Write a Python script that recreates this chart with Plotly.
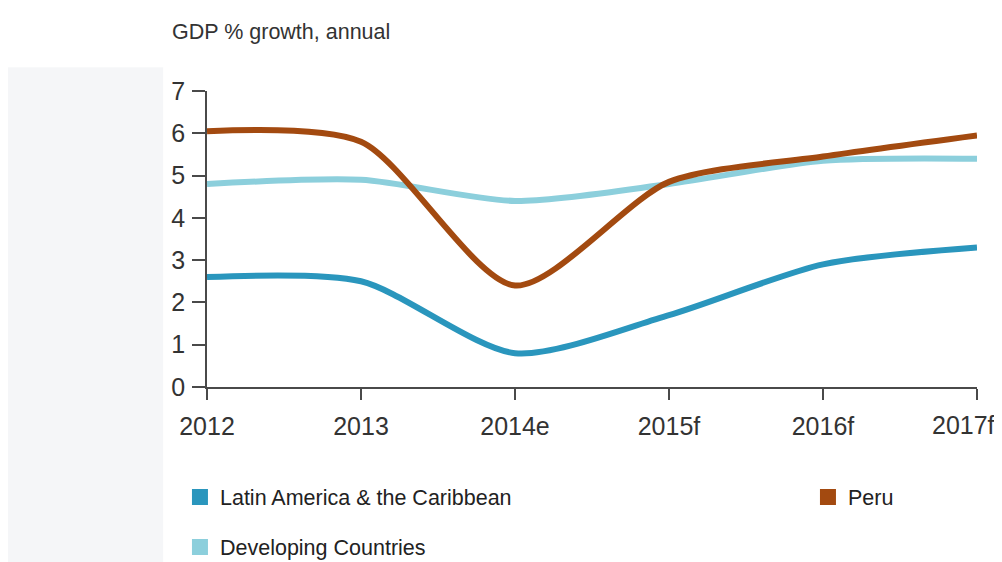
import plotly.graph_objects as go

years = ["2012", "2013", "2014e", "2015f", "2016f", "2017f"]
lac = [2.6, 2.5, 0.8, 1.7, 2.9, 3.3]
developing = [4.8, 4.9, 4.4, 4.8, 5.35, 5.4]
peru = [6.05, 5.8, 2.4, 4.85, 5.45, 5.95]

C_LAC = "#2a96bd"
C_DEV = "#8ccfdc"
C_PERU = "#a34a10"

fig = go.Figure()
for name, vals, col in [("Developing Countries", developing, C_DEV),
                        ("Latin America & the Caribbean", lac, C_LAC),
                        ("Peru", peru, C_PERU)]:
    fig.add_trace(go.Scatter(x=years, y=vals, mode="lines", name=name,
                             line=dict(color=col, width=6, shape="spline", smoothing=0.75),
                             showlegend=False, hoverinfo="skip"))

# legend entries with square swatches
fig.add_trace(go.Scatter(x=[None], y=[None], mode="markers", name="Latin America & the Caribbean",
                         marker=dict(symbol="square", size=18, color=C_LAC),
                         legend="legend", legendwidth=583))
fig.add_trace(go.Scatter(x=[None], y=[None], mode="markers", name="Peru",
                         marker=dict(symbol="square", size=18, color=C_PERU),
                         legend="legend", legendwidth=50))
fig.add_trace(go.Scatter(x=[None], y=[None], mode="markers", name="Developing Countries",
                         marker=dict(symbol="square", size=18, color=C_DEV),
                         legend="legend2"))

# the last category label is drawn as an annotation, pulled left to stay inside the page
ticktext = years[:-1] + [""]

axis_col = "#4a4a4a"
label_font = dict(size=25, color="#333333")
# page body has an 8px margin, so the figure is sized to fit the window
fig.update_layout(
    width=994, height=554,
    margin=dict(l=199, r=25, t=83, b=175),
    paper_bgcolor="white", plot_bgcolor="white",
    font=dict(family="Liberation Sans, Arial, sans-serif", color="#333333"),
    xaxis=dict(type="category", categoryorder="array", categoryarray=years,
               tickvals=years, ticktext=ticktext,
               range=[0, 5], showgrid=False, zeroline=False, automargin=False,
               showline=True, linecolor=axis_col, linewidth=1.5,
               ticks="outside", ticklen=11, tickcolor=axis_col, tickwidth=1.5,
               ticklabelstandoff=5,
               tickfont=label_font),
    yaxis=dict(range=[0, 7], dtick=1, showgrid=False, zeroline=False, automargin=False,
               showline=True, linecolor=axis_col, linewidth=1.5,
               ticks="outside", ticklen=13, tickcolor=axis_col, tickwidth=1.5,
               ticklabelstandoff=2,
               tickfont=label_font),
    legend=dict(orientation="h", xref="container", x=0.173, xanchor="left",
                yref="container", y=0.1173, yanchor="middle",
                font=dict(size=21.5, color="#222222"), bgcolor="rgba(0,0,0,0)"),
    legend2=dict(orientation="h", xref="container", x=0.173, xanchor="left",
                 yref="container", y=0.0271, yanchor="middle",
                 font=dict(size=21.5, color="#222222"), bgcolor="rgba(0,0,0,0)"),
    showlegend=True,
    annotations=[
        dict(text="GDP % growth, annual", xref="paper", yref="paper",
             x=-0.048, y=1.199, xanchor="left", yanchor="middle",
             showarrow=False, font=dict(size=21.5, color="#333333")),
        dict(text=years[-1], xref="x", yref="paper", x=years[-1], y=0,
             xanchor="right", yanchor="middle", xshift=20, yshift=-38,
             showarrow=False, font=label_font),
    ],
    shapes=[dict(type="rect", xref="paper", yref="paper", x0=-0.27, x1=-0.057,
                 y0=-0.6, y1=1.08, fillcolor="#eef0f3", line=dict(width=0),
                 layer="below", opacity=0.6)],
)

fig.write_html("out.html")
